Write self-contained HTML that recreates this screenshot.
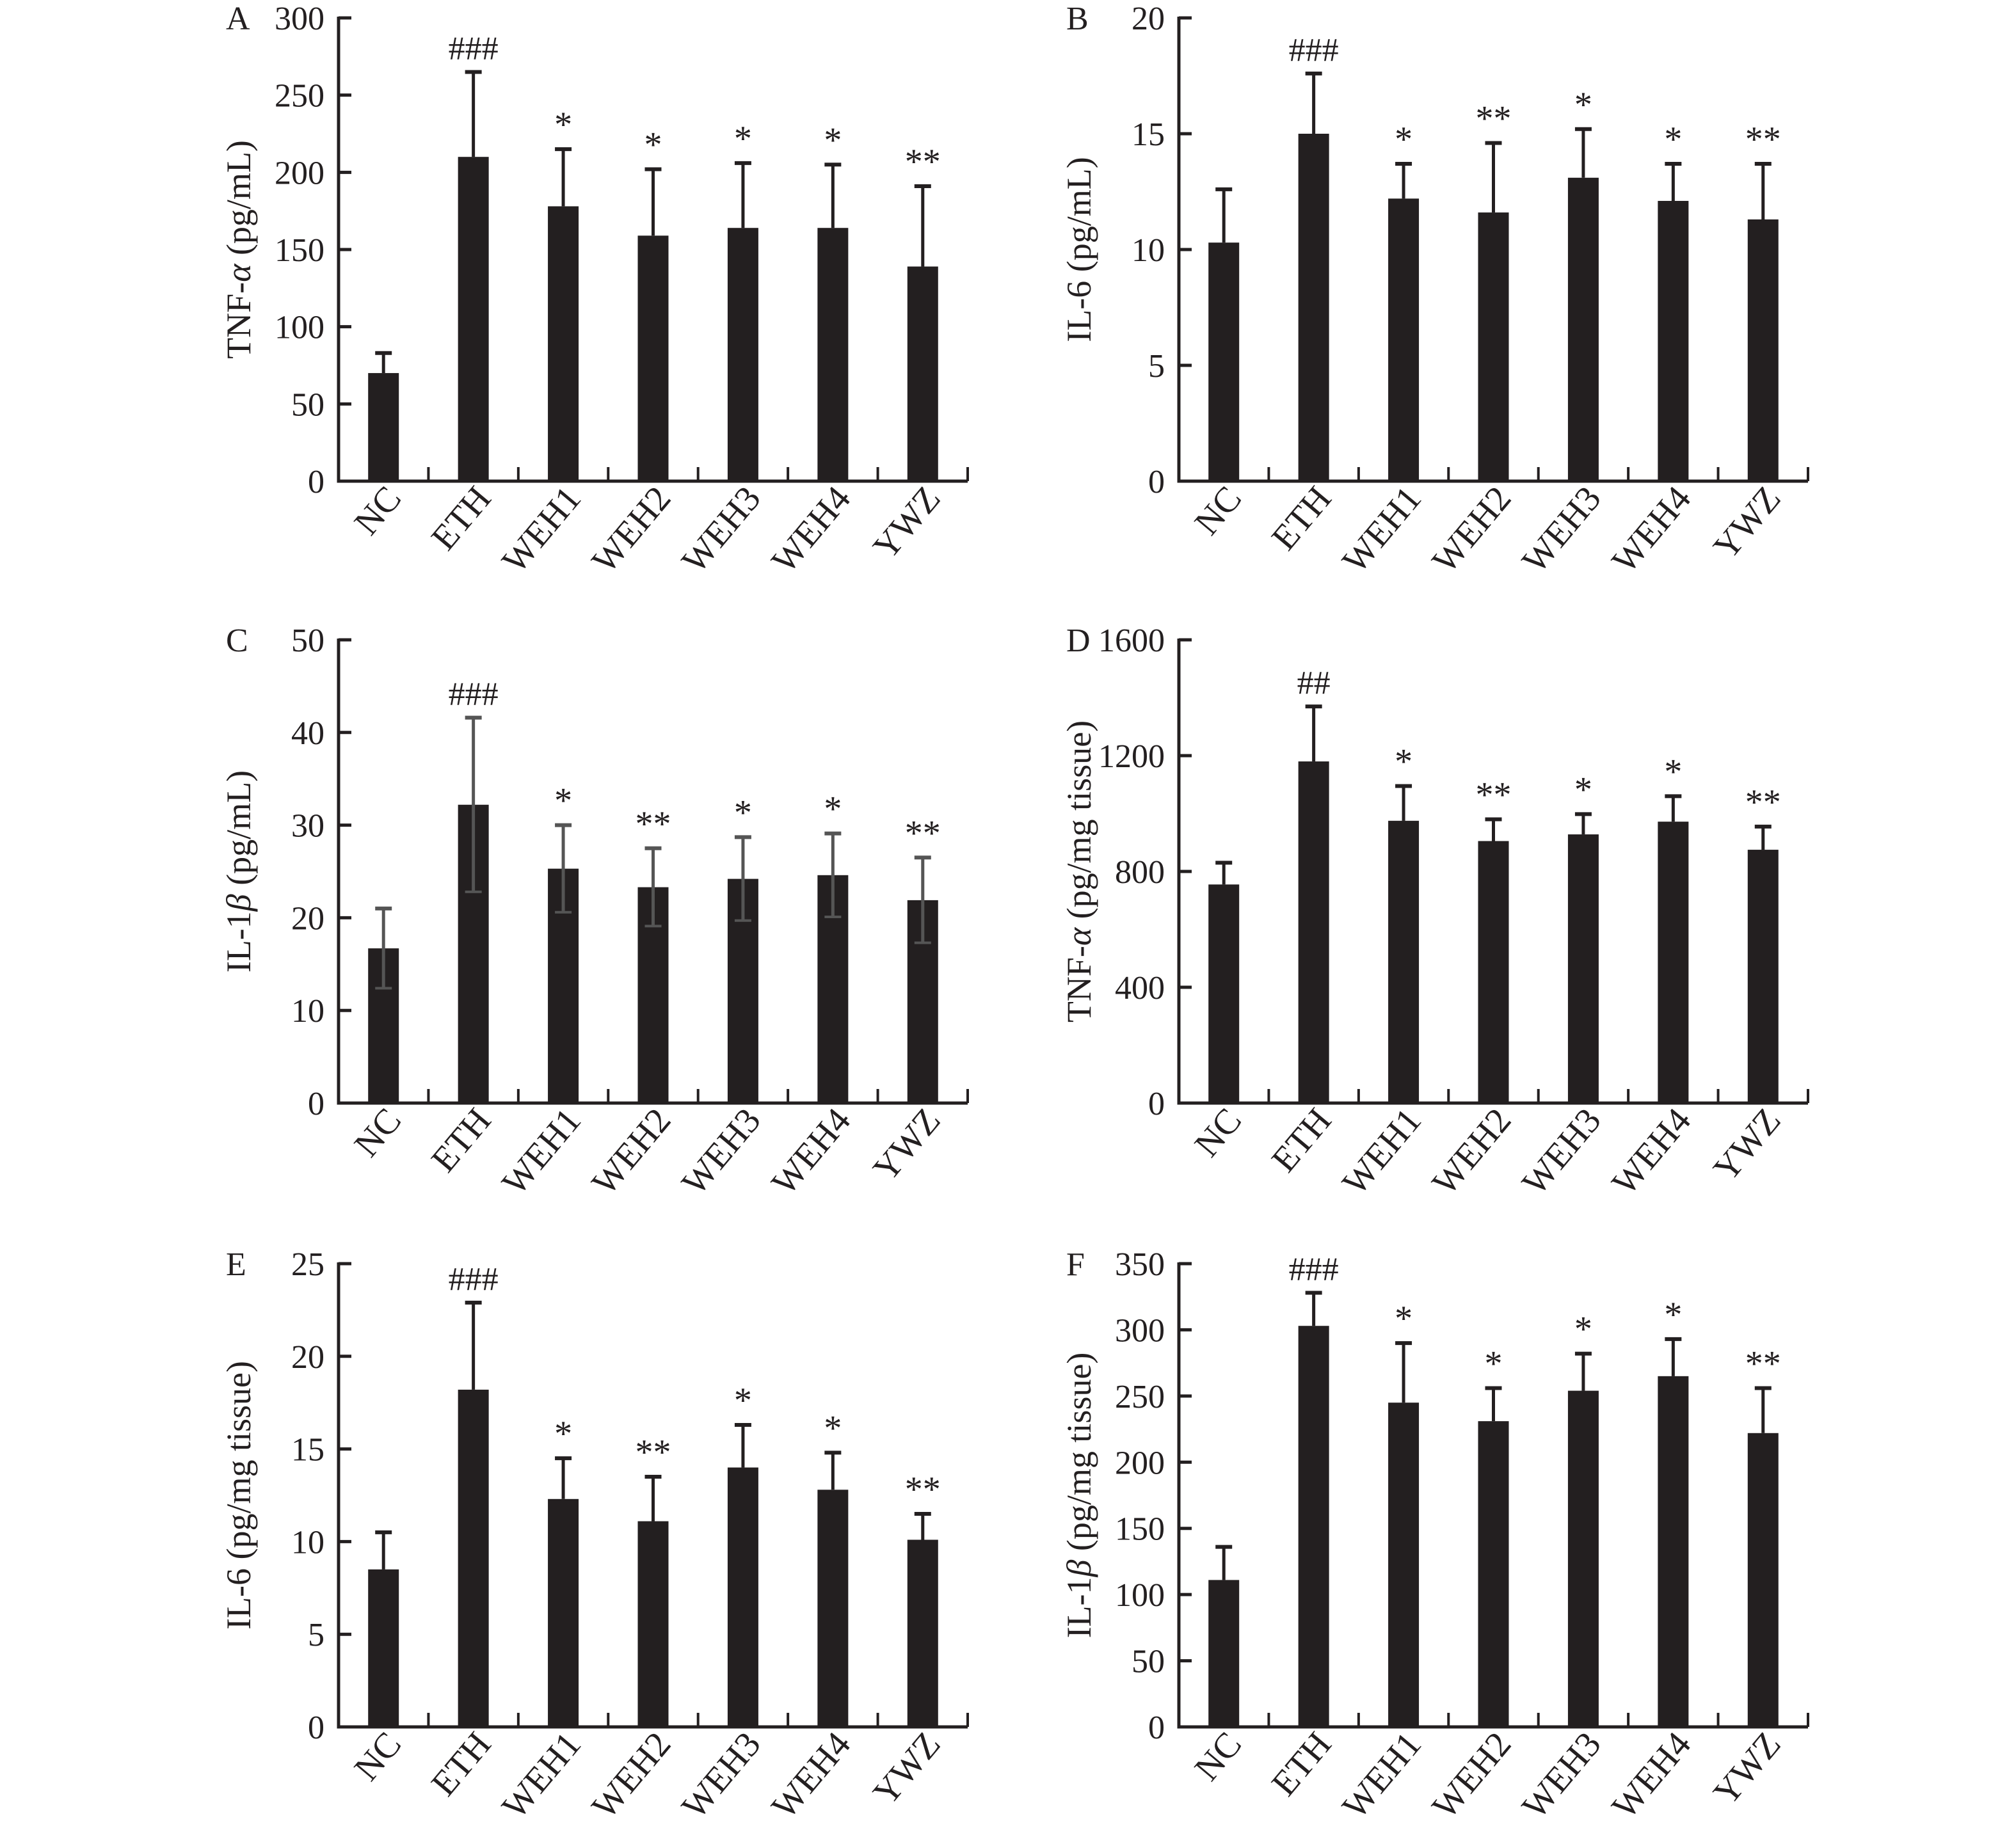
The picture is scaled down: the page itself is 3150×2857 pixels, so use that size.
<!DOCTYPE html>
<html><head><meta charset="utf-8"><style>
html,body{margin:0;padding:0;background:#fff;}
svg{display:block;}
text{font-family:"Liberation Serif",serif;fill:#231f20;}
</style></head><body>
<svg id="fig" width="3150" height="2857" viewBox="0 0 3150 2857" xmlns="http://www.w3.org/2000/svg"></svg>
<script>
const categories = ["NC","ETH","WEH1","WEH2","WEH3","WEH4","YWZ"];
const meansA = [70,210,178,159,164,164,139];
const errA = [13,55,37,43,42,41,52];
const signA = ["","###","*","*","*","*","**"];
const ticksA = [0,50,100,150,200,250,300];
const meansB = [10.3,15,12.2,11.6,13.1,12.1,11.3];
const errB = [2.3,2.6,1.5,3,2.1,1.6,2.4];
const signB = ["","###","*","**","*","*","**"];
const ticksB = [0,5,10,15,20];
const meansC = [16.7,32.2,25.3,23.3,24.2,24.6,21.9];
const errC = [4.3,9.4,4.7,4.2,4.5,4.5,4.6];
const signC = ["","###","*","**","*","*","**"];
const ticksC = [0,10,20,30,40,50];
const meansD = [755,1180,975,905,928,972,875];
const errD = [75,190,120,75,70,88,80];
const signD = ["","##","*","**","*","*","**"];
const ticksD = [0,400,800,1200,1600];
const meansE = [8.5,18.2,12.3,11.1,14,12.8,10.1];
const errE = [2,4.7,2.2,2.4,2.3,2,1.4];
const signE = ["","###","*","**","*","*","**"];
const ticksE = [0,5,10,15,20,25];
const meansF = [111,303,245,231,254,265,222];
const errF = [25,25,45,25,28,28,34];
const signF = ["","###","*","*","*","*","**"];
const ticksF = [0,50,100,150,200,250,300,350];

const NS="http://www.w3.org/2000/svg";
const svg=document.getElementById('fig');
function mk(tag,attrs,parent){const e=document.createElementNS(NS,tag);for(const k in attrs)e.setAttribute(k,attrs[k]);(parent||svg).appendChild(e);return e;}

const panels=[
 {id:"a",letter:"A",x0:529,yTop:28,means:meansA,err:errA,sign:signA,ticks:ticksA,title:["TNF-","α"," (pg/mL)"],both:false},
 {id:"b",letter:"B",x0:1842,yTop:28,means:meansB,err:errB,sign:signB,ticks:ticksB,title:["IL-6 (pg/mL)"],both:false},
 {id:"c",letter:"C",x0:529,yTop:1000,means:meansC,err:errC,sign:signC,ticks:ticksC,title:["IL-1","β"," (pg/mL)"],both:true},
 {id:"d",letter:"D",x0:1842,yTop:1000,means:meansD,err:errD,sign:signD,ticks:ticksD,title:["TNF-","α"," (pg/mg tissue)"],both:false},
 {id:"e",letter:"E",x0:529,yTop:1975,means:meansE,err:errE,sign:signE,ticks:ticksE,title:["IL-6 (pg/mg tissue)"],both:false},
 {id:"f",letter:"F",x0:1842,yTop:1975,means:meansF,err:errF,sign:signF,ticks:ticksF,title:["IL-1","β"," (pg/mg tissue)"],both:false}
];
const W=983,H=724;
panels.forEach(p=>{
  const g=mk('g',{});
  
  
  const yZero=p.yTop+H;
  const max=p.ticks[p.ticks.length-1];
  const y=v=>yZero-v/max*H;
  const band=W/categories.length;
  const cx=i=>p.x0+band*(i+0.5);
  p.means.forEach((m,i)=>{
    const b=mk('rect',{x:cx(i)-24,y:y(m),width:48,height:yZero-y(m),fill:"#231f20"},g);
    
    
    const col=p.both?"#555":"#231f20";
    const lo=p.both?y(m-p.err[i]):y(m);
    const e=mk('line',{x1:cx(i),x2:cx(i),y1:y(m+p.err[i]),y2:lo,stroke:col,"stroke-width":5},g);
    
    
    mk('line',{x1:cx(i)-13,x2:cx(i)+13,y1:y(m+p.err[i]),y2:y(m+p.err[i]),stroke:col,"stroke-width":6},g);
    if(p.both)mk('line',{x1:cx(i)-13,x2:cx(i)+13,y1:lo,y2:lo,stroke:col,"stroke-width":4},g);
    if(p.sign[i]){
      const t=mk('text',{x:cx(i),y:y(m+p.err[i])-20,"text-anchor":"middle","font-size":p.sign[i][0]=="#"?52:56},g);
      t.textContent=p.sign[i];
      
      
    }
    const lbl=mk('text',{x:0,y:0,"text-anchor":"end","font-size":56,transform:`translate(${cx(i)+30},${yZero+28}) rotate(-50)`},g);
    lbl.textContent=categories[i];
    
    
  });
  const ax=mk('path',{d:`M${p.x0},${p.yTop-2} V${yZero} H${p.x0+W}`,fill:"none",stroke:"#231f20","stroke-width":5},g);
  
  
  for(let k=1;k<=categories.length;k++){
    const xx=p.x0+band*k;
    mk('line',{x1:xx,x2:xx,y1:yZero,y2:yZero-22,stroke:"#231f20","stroke-width":4},g);
  }
  p.ticks.forEach(v=>{
    mk('line',{x1:p.x0,x2:p.x0+20,y1:y(v),y2:y(v),stroke:"#231f20","stroke-width":5},g);
    const t=mk('text',{x:p.x0-22,y:y(v)+18,"text-anchor":"end","font-size":52},g);
    t.textContent=v;
    
    
  });
  const L=mk('text',{x:p.x0-176,y:p.yTop+18,"font-size":52},g);
  L.textContent=p.letter;
  
  
  const tt=mk('text',{x:0,y:0,"text-anchor":"middle","font-size":54,transform:`translate(${p.x0-138},${p.yTop+H/2}) rotate(-90)`},g);
  
  
  p.title.forEach((s,j)=>{const sp=mk('tspan',{},tt);if(s==="α"||s==="β")sp.setAttribute('font-style','italic');sp.textContent=s;});
});
</script>
</body></html>
